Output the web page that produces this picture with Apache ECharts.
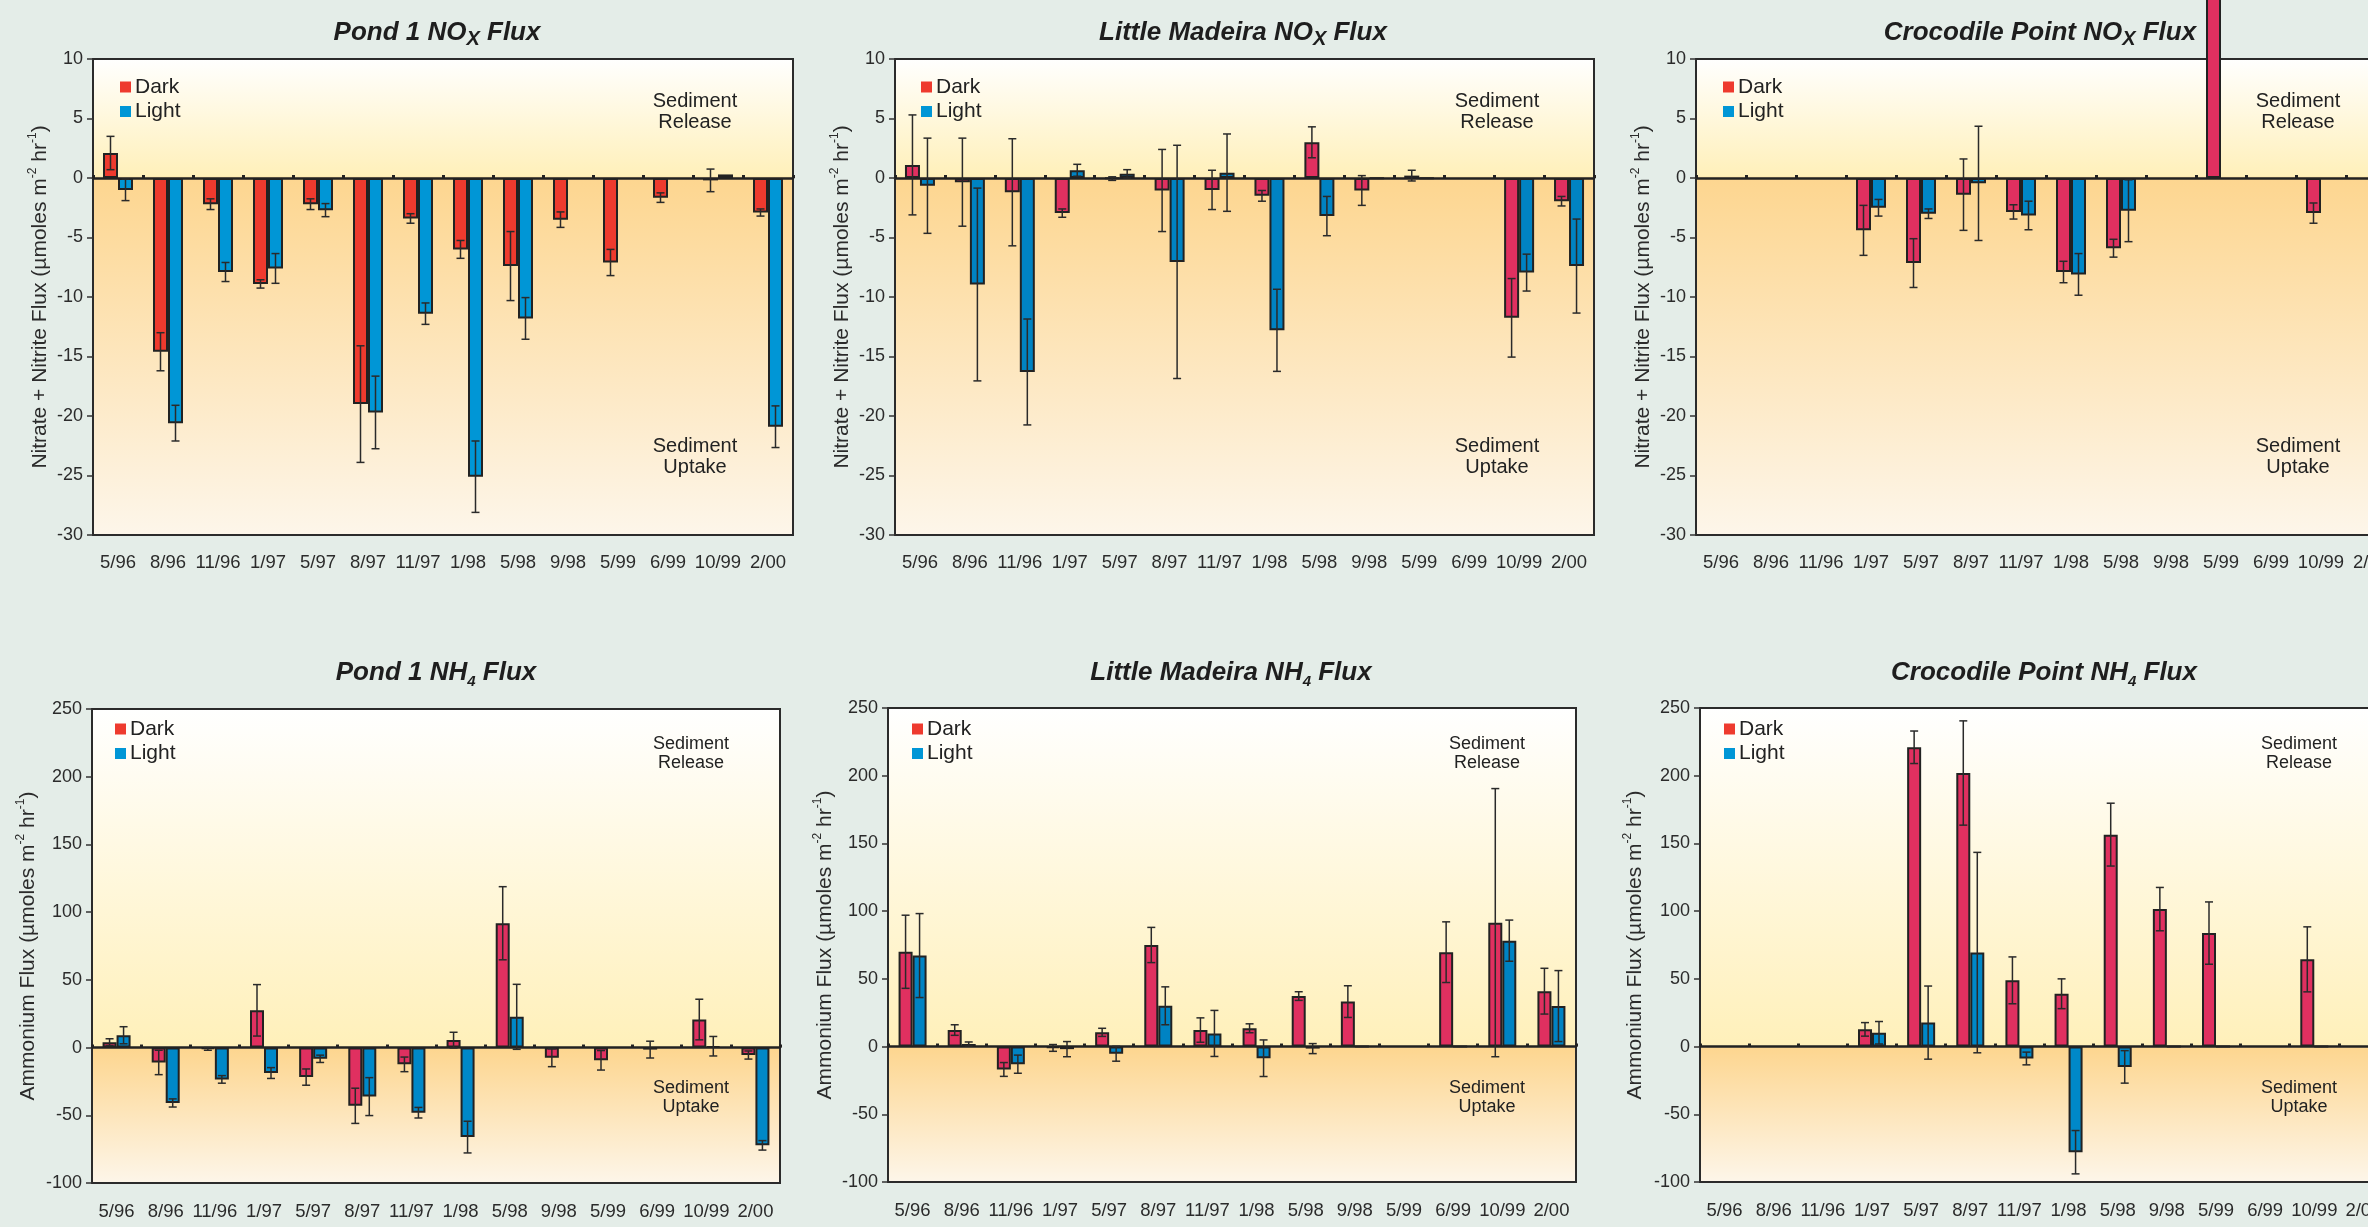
<!DOCTYPE html>
<html><head><meta charset="utf-8">
<script src="https://cdn.jsdelivr.net/npm/echarts@6/dist/echarts.min.js"></script>
<style>html,body{margin:0;padding:0;background:#e4ede8;} #c{width:2368px;height:1227px;}</style>
</head><body><div id="c"></div>
<script>
const categories = ['5/96','8/96','11/96','1/97','5/97','8/97','11/97','1/98','5/98','9/98','5/99','6/99','10/99','2/00'];

const noxTicks = {min: -30, max: 10, interval: 5};
const nh4Ticks = {min: -100, max: 250, interval: 50};

const pondNoxDark     = [2.1, -14.6, -2.2, -8.9, -2.2, -19.0, -3.4, -6.0, -7.4, -3.5, -7.1, -1.65, -0.2, -2.9];
const pondNoxDarkErr  = [1.4, 1.6, 0.45, 0.35, 0.45, 4.9, 0.4, 0.75, 2.9, 0.65, 1.1, 0.4, 0.95, 0.3];
const pondNoxLight    = [-1.0, -20.6, -7.9, -7.6, -2.7, -19.7, -11.4, -25.1, -11.8, null, null, null, 0.3, -20.9];
const pondNoxLightErr = [0.9, 1.5, 0.8, 1.25, 0.55, 3.05, 0.9, 3.0, 1.75, null, null, null, 0, 1.75];

const lmNoxDark     = [1.1, -0.35, -1.2, -2.95, -0.05, -1.05, -1.0, -1.5, 3.0, -1.05, 0.2, null, -11.75, -1.95];
const lmNoxDarkErr  = [4.2, 3.7, 4.5, 0.35, 0.15, 3.45, 1.65, 0.45, 1.3, 1.25, 0.45, null, 3.3, 0.4];
const lmNoxLight    = [-0.65, -8.95, -16.3, 0.65, 0.35, -7.05, 0.45, -12.8, -3.2, -0.05, -0.05, null, -7.95, -7.4];
const lmNoxLightErr = [4.0, 8.1, 4.45, 0.5, 0.35, 9.8, 3.25, 3.45, 1.65, 0, 0, null, 1.55, 3.95];

const crocNoxDark     = [null, null, null, -4.4, -7.15, -1.4, -2.85, -7.9, -5.9, null, 22, null, -2.95, null];
const crocNoxDarkErr  = [null, null, null, 2.1, 2.05, 3.0, 0.6, 0.9, 0.75, null, 0, null, 0.85, null];
const crocNoxLight    = [null, null, null, -2.5, -3.0, -0.45, -3.15, -8.1, -2.75, null, null, null, null, null];
const crocNoxLightErr = [null, null, null, 0.7, 0.4, 4.8, 1.2, 1.75, 2.6, null, null, null, null, null];

const pondNh4Dark     = [4, -11, -1, 27.5, -21.8, -43, -12.4, 5.5, 91.8, -7.5, -9.4, -1.5, 20.7, -5.5];
const pondNh4DarkErr  = [2.5, 9, 1, 19, 6, 13, 5.4, 5.8, 27, 6.6, 7.2, 6.2, 15, 3];
const pondNh4Light    = [9.1, -40.9, -23.5, -18.8, -8.3, -36.2, -48.1, -66.1, 22.7, null, null, null, 1, -72.2];
const pondNh4LightErr = [6.3, 3, 2.8, 4, 2.7, 14, 3.9, 11.7, 24, null, null, null, 7.2, 3.5];

const lmNh4Dark     = [70, 12.2, -16.9, -1, 10.5, 75, 12.2, 13.5, 37.3, 33.2, null, 69.7, 91.5, 40.9];
const lmNh4DarkErr  = [27, 3.9, 5.1, 2.5, 3, 13, 9, 3.3, 3.2, 11.7, null, 22.4, 99, 16.9];
const lmNh4Light    = [67.2, 1.9, -13, -1.9, -5.3, 30.1, 9.7, -8.6, -1.5, 0, null, 0, 78.2, 29.9];
const lmNh4LightErr = [31, 1.5, 6.7, 5.6, 5.5, 14, 17, 13.5, 3.7, 0, null, 0, 15.2, 26.2];

const crocNh4Dark     = [null, null, null, 12.7, 221, 202, 48.9, 39, 156.5, 101.5, 83.8, null, 64.4, null];
const crocNh4DarkErr  = [null, null, null, 5, 12, 38.5, 17.3, 11, 23.2, 16, 23, null, 24, null];
const crocNh4Light    = [null, null, null, 10.2, 17.7, 69.4, -8.8, -78, -15, 0, 0, null, 0, null];
const crocNh4LightErr = [null, null, null, 8.3, 27, 74, 4.7, 16, 12, 0, 0, null, 0, null];

const FONT = '"Liberation Sans", Arial, Helvetica, sans-serif';
const noxName = 'Nitrate + Nitrite Flux (µmoles m{sup|-2} hr{sup|-1})';
const nh4Name = 'Ammonium Flux (µmoles m{sup|-2} hr{sup|-1})';

const panels = [
  {t1:'Pond 1 NO', sub:'X', grid:{left:93, top:59, width:700, height:476}, ticks:noxTicks, yName:noxName, nameGap:39,
   dark:pondNoxDark, darkErr:pondNoxDarkErr, light:pondNoxLight, lightErr:pondNoxLightErr,
   darkColor:'#ee3a2e', lightColor:'#0096d6', bw:15, legend:[120, 76], rel:[695, 111.5], upt:[695, 456.5], titleX:437, titleTop:17, fs:20, lh:21, lm:18},
  {t1:'Little Madeira NO', sub:'X', grid:{left:895, top:59, width:699, height:476}, ticks:noxTicks, yName:noxName, nameGap:39,
   dark:lmNoxDark, darkErr:lmNoxDarkErr, light:lmNoxLight, lightErr:lmNoxLightErr,
   darkColor:'#e03060', lightColor:'#0083c3', bw:15, legend:[921, 76], rel:[1497, 111.5], upt:[1497, 456.5], titleX:1243, titleTop:17, fs:20, lh:21, lm:18},
  {t1:'Crocodile Point NO', sub:'X', grid:{left:1696, top:59, width:700, height:476}, ticks:noxTicks, yName:noxName, nameGap:38,
   dark:crocNoxDark, darkErr:crocNoxDarkErr, light:crocNoxLight, lightErr:crocNoxLightErr,
   darkColor:'#e03060', lightColor:'#0088c8', bw:15, legend:[1723, 76], rel:[2298, 111.5], upt:[2298, 456.5], titleX:2040, titleTop:17, fs:20, lh:21, lm:18},
  {t1:'Pond 1 NH', sub:'4', grid:{left:92, top:709, width:688, height:474}, ticks:nh4Ticks, yName:nh4Name, nameGap:51,
   dark:pondNh4Dark, darkErr:pondNh4DarkErr, light:pondNh4Light, lightErr:pondNh4LightErr,
   darkColor:'#e03060', lightColor:'#0088c8', bw:14, legend:[115, 718], rel:[691, 754], upt:[691, 1098], titleX:436, titleTop:657, fs:18, lh:19, lm:19},
  {t1:'Little Madeira NH', sub:'4', grid:{left:888, top:708, width:688, height:474}, ticks:nh4Ticks, yName:nh4Name, nameGap:50,
   dark:lmNh4Dark, darkErr:lmNh4DarkErr, light:lmNh4Light, lightErr:lmNh4LightErr,
   darkColor:'#e03060', lightColor:'#0083c3', bw:14, legend:[912, 718], rel:[1487, 754], upt:[1487, 1098], titleX:1231, titleTop:657, fs:18, lh:19, lm:19},
  {t1:'Crocodile Point NH', sub:'4', grid:{left:1700, top:708, width:688, height:474}, ticks:nh4Ticks, yName:nh4Name, nameGap:52,
   dark:crocNh4Dark, darkErr:crocNh4DarkErr, light:crocNh4Light, lightErr:crocNh4LightErr,
   darkColor:'#e03060', lightColor:'#0088c8', bw:14, legend:[1724, 718], rel:[2299, 754], upt:[2299, 1098], titleX:2044, titleTop:657, fs:18, lh:19, lm:19}
];

function plotGrad(t) {
  const z = t.max / (t.max - t.min);
  return new echarts.graphic.LinearGradient(0, 0, 0, 1, [
    {offset: 0, color: '#ffffff'},
    {offset: z - 0.003, color: '#fff0ba'},
    {offset: z + 0.003, color: '#fdd690'},
    {offset: 1, color: '#fdf6ea'}
  ]);
}

function errRender(offset) {
  return function (params, api) {
    const i = api.value(0), v = api.value(1), e = api.value(2);
    const top = api.coord([i, v + e]);
    const bot = api.coord([i, v - e]);
    const x = top[0] + offset;
    const cw = 4;
    const st = {stroke: '#2a2a2a', lineWidth: 1.5};
    return {type: 'group', children: [
      {type: 'line', shape: {x1: x, y1: top[1], x2: x, y2: bot[1]}, style: st},
      {type: 'line', shape: {x1: x - cw, y1: top[1], x2: x + cw, y2: top[1]}, style: st},
      {type: 'line', shape: {x1: x - cw, y1: bot[1], x2: x + cw, y2: bot[1]}, style: st}
    ]};
  };
}

function errData(vals, errs) {
  const out = [];
  vals.forEach((v, i) => { if (v != null && errs[i]) out.push([i, v, errs[i]]); });
  return out;
}

const option = {
  backgroundColor: '#e4ede8',
  animation: false,
  title: [], grid: [], xAxis: [], yAxis: [], legend: [], series: [], graphic: []
};

panels.forEach((p, k) => {
  option.title.push({
    text: '{t|' + p.t1 + '}{s|' + p.sub + '}{t| Flux}',
    left: p.titleX, top: p.titleTop, textAlign: 'center', padding: 0,
    textStyle: {rich: {
      t: {fontSize: 26, fontWeight: 'bold', fontStyle: 'italic', fontFamily: FONT, color: '#1e1e1e', lineHeight: 32, verticalAlign: 'middle'},
      s: {fontSize: p.sub === 'X' ? 20 : 15, fontWeight: 'bold', fontStyle: 'italic', fontFamily: FONT, color: '#1e1e1e', lineHeight: 32, verticalAlign: 'bottom'}
    }}
  });
  option.grid.push(Object.assign({}, p.grid, {
    show: true, backgroundColor: plotGrad(p.ticks), borderColor: '#2b2b2b', borderWidth: 2, containLabel: false, outerBoundsMode: 'none'
  }));
  option.xAxis.push({
    gridIndex: k, type: 'category', data: categories, position: 'bottom',
    axisLine: {show: false, onZero: false}, axisTick: {show: false}, splitLine: {show: false},
    axisLabel: {interval: 0, fontSize: 18.5, margin: p.lm, color: '#2b2b2b', fontFamily: FONT, hideOverlap: false}
  });
  option.xAxis.push({
    gridIndex: k, type: 'category', data: categories, position: 'top',
    axisLine: {show: true, onZero: true, lineStyle: {color: '#222', width: 2.5}},
    axisTick: {show: true, interval: 0, length: 3, lineStyle: {color: '#222', width: 3}},
    axisLabel: {show: false}, splitLine: {show: false}
  });
  option.yAxis.push({
    gridIndex: k, type: 'value', min: p.ticks.min, max: p.ticks.max, interval: p.ticks.interval,
    axisLine: {show: false}, axisTick: {show: true, length: 6, lineStyle: {color: '#333', width: 1.5}},
    splitLine: {show: false},
    axisLabel: {fontSize: 18, color: '#2b2b2b', margin: 10, fontFamily: FONT},
    name: p.yName, nameLocation: 'middle', nameGap: p.nameGap, nameRotate: 90,
    nameTextStyle: {fontSize: 21, color: '#2b2b2b', fontFamily: FONT, lineHeight: 26,
      rich: {sup: {fontSize: 12, color: '#2b2b2b', fontFamily: FONT, lineHeight: 26, verticalAlign: 'top'}}}
  });
  option.legend.push({
    left: p.legend[0], top: p.legend[1], orient: 'vertical', icon: 'rect', padding: 0,
    itemWidth: 11, itemHeight: 11, itemGap: 2.5, selectedMode: false,
    textStyle: {fontSize: 21, color: '#222', fontFamily: FONT, lineHeight: 22, padding: [0, 0, 0, -1]},
    itemStyle: {borderWidth: 0},
    data: [{name: 'Dark', itemStyle: {color: '#ee3a2e', borderWidth: 0}}, {name: 'Light', itemStyle: {color: '#0096d6', borderWidth: 0}}]
  });
  const xi = k * 2;
  option.series.push({
    name: 'Dark', type: 'bar', xAxisIndex: xi, yAxisIndex: k, data: p.dark, barWidth: p.bw, barGap: '0%', clip: false, z: 2,
    itemStyle: {color: p.darkColor, borderColor: '#222', borderWidth: 2}
  });
  option.series.push({
    name: 'Light', type: 'bar', xAxisIndex: xi, yAxisIndex: k, data: p.light, barWidth: p.bw, barGap: '0%', clip: false, z: 2,
    itemStyle: {color: p.lightColor, borderColor: '#222', borderWidth: 2}
  });
  option.series.push({
    type: 'custom', xAxisIndex: xi, yAxisIndex: k, data: errData(p.dark, p.darkErr), renderItem: errRender(-p.bw / 2), z: 4, silent: true
  });
  option.series.push({
    type: 'custom', xAxisIndex: xi, yAxisIndex: k, data: errData(p.light, p.lightErr), renderItem: errRender(p.bw / 2), z: 4, silent: true
  });
  [['Sediment\nRelease', p.rel], ['Sediment\nUptake', p.upt]].forEach(([txt, pos]) => {
    option.graphic.push({
      type: 'text', x: pos[0], y: pos[1], z: 10,
      style: {text: txt, fill: '#222', fontSize: p.fs, fontFamily: FONT, lineHeight: p.lh, align: 'center', verticalAlign: 'middle'}
    });
  });
});

const chart = echarts.init(document.getElementById('c'), null, {renderer: 'canvas'});
chart.setOption(option);
</script>
</body></html>
